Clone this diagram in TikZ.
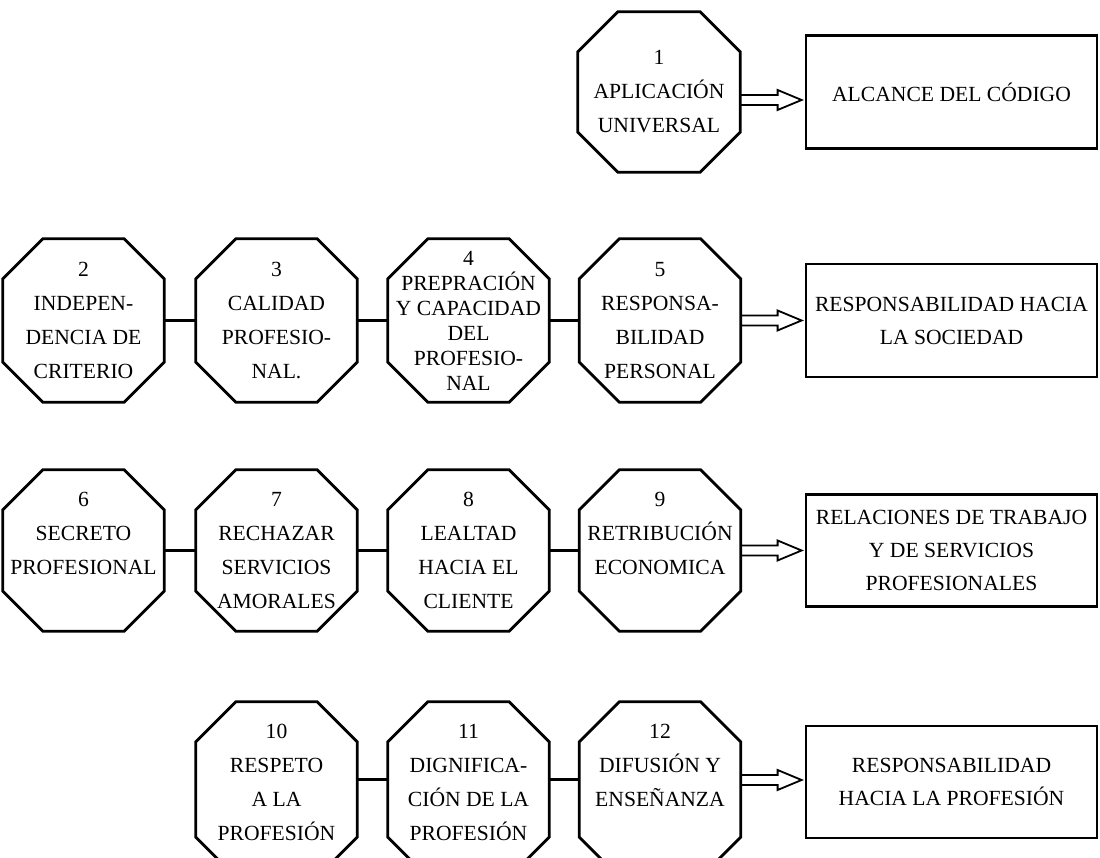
\documentclass[tikz,border=0pt]{standalone}
\usepackage{fontspec}
\setmainfont{Liberation Serif}
\usetikzlibrary{calc}
\tikzset{
  x=1pt,y=1pt,
  oct/.style={rectangle, inner sep=0pt, minimum width=161pt, minimum height=163pt, align=center, font=\fontsize{21.6}{34}\selectfont},
  tbox/.style={draw, line width=2.8pt, rectangle, inner sep=0pt, minimum width=291pt, minimum height=113pt, align=center, font=\fontsize{21.6}{33}\selectfont},
  ol/.style={line width=2.8pt, line join=miter},
  conn/.style={line width=3pt},
  arr/.style={line width=1.8pt, line join=miter},
}
% octagon outline round a node; optional arg = extra length at the bottom
\newcommand\octo[2][0]{%
  \draw[ol] ([xshift=40]#2.north west) -- ([xshift=-40]#2.north east)
    -- ([yshift=-40]#2.north east) -- ([yshift={40-#1}]#2.south east)
    -- ([xshift=-40,yshift=-#1]#2.south east) -- ([xshift=40,yshift=-#1]#2.south west)
    -- ([yshift={40-#1}]#2.south west) -- ([yshift=-40]#2.north west) -- cycle;}
% hollow block arrow from node #1 to node #2, at vertical offset #3
\newcommand\barrow[3]{%
  \draw[arr] ([yshift={#3+5}]#1.east) -- ($([yshift={#3+5}]#2.west)+(-27,0)$)
    -- ($([yshift={#3+10}]#2.west)+(-27,0)$) -- ($([yshift={#3}]#2.west)+(-3,0)$)
    -- ($([yshift={#3-10}]#2.west)+(-27,0)$) -- ($([yshift={#3-5}]#2.west)+(-27,0)$)
    -- ([yshift={#3-5}]#1.east);}
\begin{document}
\begin{tikzpicture}
\path[use as bounding box] (0,0) rectangle (1100,858);
\clip (0,0) rectangle (1100,858);

% Row 1
\node[oct, minimum width=162pt, minimum height=160pt] (o1) at (659,766) {1\\APLICACIÓN\\UNIVERSAL};
\octo{o1}
\node[tbox] (b1) at (951.5,766) {ALCANCE DEL CÓDIGO};
\barrow{o1}{b1}{-8}

% Row 2
\node[oct] (o2) at (83.5,537.5) {2\\INDEPEN-\\DENCIA DE\\CRITERIO};
\node[oct] (o3) at (276.5,537.5) {3\\CALIDAD\\PROFESIO-\\NAL.};
\node[oct, font=\fontsize{21.6}{25}\selectfont] (o4) at (468.5,537.5) {4\\PREPRACIÓN\\Y CAPACIDAD\\DEL\\PROFESIO-\\NAL};
\node[oct] (o5) at (660,537.5) {5\\RESPONSA-\\BILIDAD\\PERSONAL};
\octo{o2}\octo{o3}\octo{o4}\octo{o5}
\node[tbox] (b2) at (951.5,537.5) {RESPONSABILIDAD HACIA\\LA SOCIEDAD};
\draw[conn] (o2) -- (o3);
\draw[conn] (o3) -- (o4);
\draw[conn] (o4) -- (o5);
\barrow{o5}{b2}{0}

% Row 3
\node[oct, minimum height=161pt] (o6) at (83.5,307.5) {6\\SECRETO\\PROFESIONAL\\~};
\node[oct, minimum height=161pt] (o7) at (276.5,307.5) {7\\RECHAZAR\\SERVICIOS\\AMORALES};
\node[oct, minimum height=161pt] (o8) at (468.5,307.5) {8\\LEALTAD\\HACIA EL\\CLIENTE};
\node[oct, minimum height=161pt] (o9) at (660,307.5) {9\\RETRIBUCIÓN\\ECONOMICA\\~};
\octo{o6}\octo{o7}\octo{o8}\octo{o9}
\node[tbox, minimum height=112pt] (b3) at (951.5,307.5) {RELACIONES DE TRABAJO\\Y DE SERVICIOS\\PROFESIONALES};
\draw[conn] (o6) -- (o7);
\draw[conn] (o7) -- (o8);
\draw[conn] (o8) -- (o9);
\barrow{o9}{b3}{0}

% Row 4
\node[oct, minimum height=160pt] (o10) at (276.5,76) {10\\RESPETO\\A LA\\PROFESIÓN};
\node[oct, minimum height=160pt] (o11) at (468.5,76) {11\\DIGNIFICA-\\CIÓN DE LA\\PROFESIÓN};
\node[oct, minimum height=160pt] (o12) at (660,76) {12\\DIFUSIÓN Y\\ENSEÑANZA\\~};
\octo[15]{o10}\octo[15]{o11}\octo[15]{o12}
\node[tbox, minimum height=112pt] (b4) at (951.5,76) {RESPONSABILIDAD\\HACIA LA PROFESIÓN};
\draw[conn] ([yshift=2]o10.east) -- ([yshift=2]o11.west);
\draw[conn] ([yshift=2]o11.east) -- ([yshift=2]o12.west);
\barrow{o12}{b4}{2}
\end{tikzpicture}
\end{document}
